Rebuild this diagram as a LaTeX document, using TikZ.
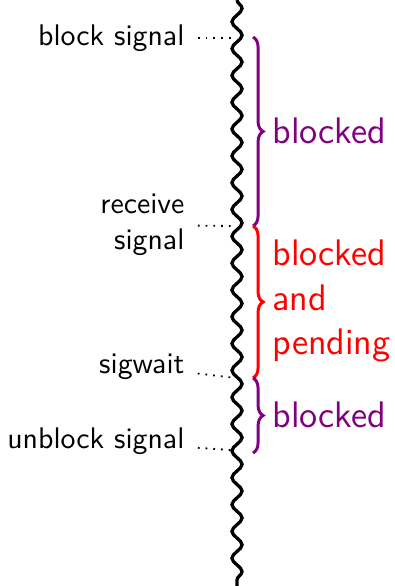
\documentclass[tikz,border=0pt]{standalone}
\usepackage{tikz}
\usetikzlibrary{decorations.pathmorphing,decorations.pathreplacing}
\definecolor{bloqueado}{HTML}{800080}
\definecolor{pendiente}{HTML}{FF0000}
\definecolor{tinta}{HTML}{000000}
\tikzset{
  hilo/.style={decorate,decoration={snake,segment length=9pt,amplitude=1.7pt},line width=1.1pt,draw=tinta},
  etiqueta/.style={anchor=east,inner sep=0pt,font=\sffamily,align=right,text=tinta},
  guia/.style={draw=tinta,dotted,line width=0.6pt,shorten <=4.3pt},
  llave/.style={decorate,decoration={brace,amplitude=3.4pt},line width=1pt},
  estado/.style={anchor=west,inner sep=0pt,font=\sffamily\fontsize{12.4}{14.8}\selectfont,align=left},
}
\begin{document}
\begin{tikzpicture}[x=0.0118cm,y=-0.0118cm]
\useasboundingbox (0,0) rectangle (395,586);
\coordinate (arriba) at (237,0);
\coordinate (abajo) at (237,586);
\coordinate (e1) at (235,38);
\coordinate (e2) at (233,226);
\coordinate (e3) at (236,378);
\coordinate (e4) at (231,450);
\coordinate (b1) at (253,37);
\coordinate (b2) at (253,226);
\coordinate (b3) at (253,378);
\coordinate (b4) at (253,453);
% hilo que espera la senal
\draw[hilo] (arriba) -- (abajo);
% eventos a la izquierda
\node[etiqueta] (bloquea) at (185,38) {block signal};
\node[etiqueta] (recibe) at (185,225) {receive\\signal};
\node[etiqueta] (espera) at (185,367) {sigwait};
\node[etiqueta] (desbloquea) at (185,441) {unblock signal};
\draw[guia] (bloquea) -- (e1);
\draw[guia] (recibe) -- (e2);
\draw[guia] (espera) -- (e3);
\draw[guia] (desbloquea) -- (e4);
% estados a la derecha
\draw[llave,draw=bloqueado] (b1) -- (b2);
\draw[llave,draw=pendiente] (b2) -- (b3);
\draw[llave,draw=bloqueado] (b3) -- (b4);
\node[estado,text=bloqueado] (est1) at (272,131) {blocked};
\node[estado,text=pendiente] (est2) at (272,301) {blocked\\and\\pending};
\node[estado,text=bloqueado] (est3) at (272,415) {blocked};
\end{tikzpicture}
\end{document}
